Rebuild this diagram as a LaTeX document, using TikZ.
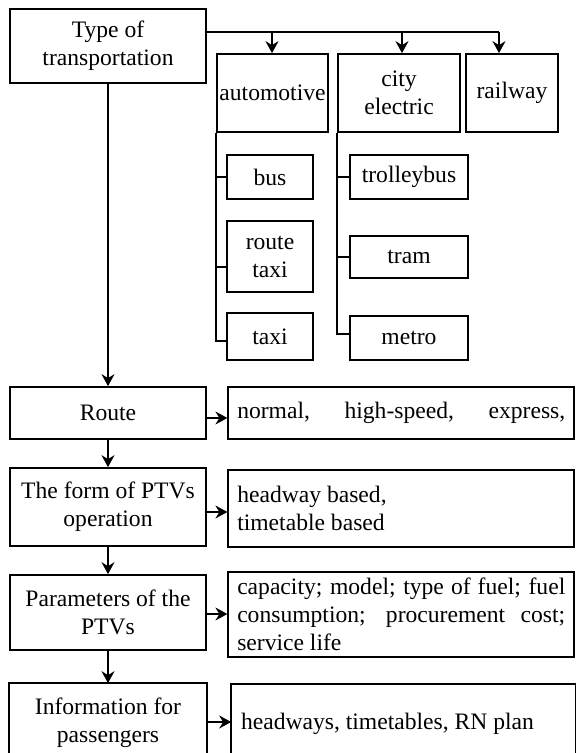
\documentclass[tikz,border=0pt]{standalone}
\usepackage{fontspec}
\setmainfont{Liberation Serif}
\usetikzlibrary{arrows.meta}

\begin{document}
\begin{tikzpicture}[x=0.5pt, y=-0.5pt,
        font=\fontsize{11.8}{14}\selectfont,
        box/.style={draw, line width=0.85pt, inner sep=1pt, align=center},
        textbox/.style={draw, line width=0.85pt, inner xsep=4.5pt, inner ysep=0pt, align=justify, text width=164pt, minimum height=#1},
        openbox/.style={line width=0.85pt},
        arr/.style={-{Stealth[length=6pt, width=6.5pt, inset=2pt]}, line width=0.85pt},
        tree/.style={line width=0.7pt}]
                \useasboundingbox (0,0) rectangle (575,753);
                \node[box, minimum width=98pt, minimum height=37pt] (type) at (108,46) {Type of\\transportation};
                \node[box, minimum width=55.5pt, minimum height=39pt] (auto) at (272.5,93) {automotive};
                \node[box, minimum width=61pt, minimum height=39pt] (city) at (399,93) {city\\electric};
                \node[box, minimum width=46pt, minimum height=39pt] (rail) at (512,93) {railway};
                \coordinate (bar0) at (206,32);
                \coordinate (bar1) at (272,32);
                \coordinate (bar2) at (402,32);
                \coordinate (bar3) at (499,32);
                \draw[tree, line width=0.85pt] (bar0) -- (bar3);
                \draw[arr] (bar1) -- (bar1 |- auto.north);
                \draw[arr] (bar2) -- (bar2 |- city.north);
                \draw[arr] (bar3) -- (bar3 |- rail.north);

                \node[box, minimum width=43pt, minimum height=22pt] (bus) at (270,177) {bus};
                \node[box, minimum width=43pt, minimum height=35.5pt] (rtaxi) at (270,256.5) {route\\taxi};
                \node[box, minimum width=43pt, minimum height=23.5pt] (taxi) at (270,336.5) {taxi};
                \node[box, minimum width=59pt, minimum height=22pt] (trolley) at (409,177) {trolleybus};
                \node[box, minimum width=59pt, minimum height=21pt] (tram) at (409,257) {tram};
                \node[box, minimum width=59pt, minimum height=22pt] (metro) at (409,338) {metro};
                \draw[tree] (auto.south west) |- ([yshift=-2.25pt]taxi.west);
                \draw[tree] (auto.south west |- bus.west) -- (bus.west);
                \draw[tree] (auto.south west |- rtaxi.west) ++(0,10.5) -- ([yshift=-5.25pt]rtaxi.west);
                \draw[tree] (city.south west) |- ([yshift=2pt]metro.west);
                \draw[tree] (city.south west |- trolley.west) -- (trolley.west);
                \draw[tree] (city.south west |- tram.west) -- (tram.west);

                \node[box, minimum width=98pt, minimum height=26pt] (route) at (108,413) {Route};
                \node[box, minimum width=98pt, minimum height=39pt] (form) at (108,507) {The form of PTVs\\operation};
                \node[box, minimum width=98pt, minimum height=37.5pt] (param) at (108,612.5) {Parameters of the\\PTVs};
                \node[box, draw=none, minimum width=98pt, minimum height=39pt] (info) at (108,723) {Information for\\passengers};
                \draw[openbox] ([yshift=-20pt]info.south west) |- (info.north east) -- ([yshift=-20pt]info.south east);
                \draw[arr] (type) -- (route);
                \draw[arr] (route) -- (form);
                \draw[arr] (form) -- (param);
                \draw[arr] (param) -- (info);

                \node[textbox=26pt] (routeT) at (401.25,413) {\makebox[\linewidth][s]{normal, high-speed, express,}};
                \node[textbox=38.5pt] (formT) at (401.25,508.5) {headway based,\\timetable based};
                \node[textbox=42.5pt] (paramT) at (401.25,614.5) {capacity; model; type of fuel; fuel\linebreak consumption; procurement cost;\linebreak service life};
                \node[textbox=38.5pt, draw=none, text width=162.25pt] (infoT) at (403.25,723.5) {headways, timetables, RN plan};
                \draw[openbox] ([yshift=-20pt]infoT.south west) |- (infoT.north east) -- ([yshift=-20pt]infoT.south east);
                \draw[arr] ([yshift=-2.5pt]route.east) coordinate (a1) -- (a1 -| routeT.west);
                \draw[arr] ([yshift=-2.5pt]form.east) coordinate (a2) -- (a2 -| formT.west);
                \draw[arr] ([yshift=-0.75pt]param.east) coordinate (a3) -- (a3 -| paramT.west);
                \draw[arr] ([yshift=0.5pt]info.east) coordinate (a4) -- (a4 -| infoT.west);
            \end{tikzpicture}
\end{document}
